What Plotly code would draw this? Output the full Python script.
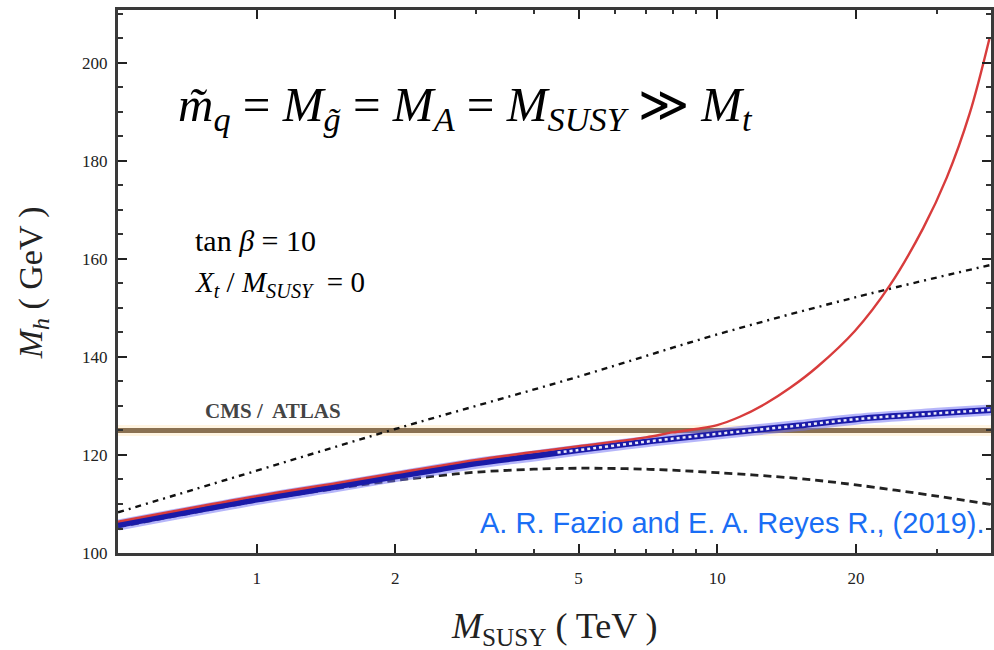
import plotly.graph_objects as go

# ---------------- data ----------------
# M_SUSY in TeV, M_h in GeV
band_x = [0.5, 1, 1.5, 2, 2.5, 3, 4, 5, 7, 10, 15, 20, 30, 39.3]
band_y = [105.7, 110.9, 113.6, 115.6, 117.1, 118.3, 119.8, 121.0, 122.7, 124.3, 126.0, 127.3, 128.5, 129.2]

dot_x = [4.5, 5, 7, 10, 15, 20, 30, 39.3]
dot_y = [120.5, 121.0, 122.7, 124.3, 126.0, 127.3, 128.5, 129.2]

red_x = [0.5, 1, 1.5, 2, 3, 4, 5, 7, 8, 9, 10, 11.2, 12.8, 14.4, 16.5, 19.9, 23.7, 28.0, 31.5, 35.3, 39.0]
red_y = [106.4, 111.6, 114.3, 116.3, 119.0, 120.6, 121.8, 123.6, 124.6, 125.3, 126.1, 127.8, 130.6, 133.7, 138.0, 145.3, 154.6, 166.3, 176.6, 189.6, 205.0]

dashdot_x = [0.5, 1, 2, 5, 10, 20, 39.3]
dashdot_y = [108.3, 116.8, 125.3, 136.0, 144.6, 152.2, 158.8]

dash_x = [0.5, 1, 1.5, 2, 2.5, 3, 4, 5, 7, 10, 15, 20, 30, 39.3]
dash_y = [105.3, 110.6, 113.2, 114.8, 115.8, 116.5, 117.1, 117.3, 117.1, 116.4, 115.2, 113.9, 111.6, 109.9]

lhc_x = [0.5, 39.3]
lhc_mh = [125, 125]

x_tickvals = [1, 2, 5, 10, 20]
x_ticktext = ["1", "2", "5", "10", "20"]
x_minor = [3, 4, 6, 7, 8, 9, 30]
y_tickvals = [100, 120, 140, 160, 180, 200]

# ---------------- figure ----------------
fig = go.Figure()

# LHC measurement band with soft halo
fig.add_trace(go.Scatter(x=lhc_x, y=lhc_mh, mode="lines",
                         line=dict(color="rgba(255,240,212,0.7)", width=11),
                         hoverinfo="skip", showlegend=False))
fig.add_trace(go.Scatter(x=lhc_x, y=lhc_mh, mode="lines",
                         line=dict(color="#8a7152", width=5),
                         showlegend=False))

# dash-dot curve
fig.add_trace(go.Scatter(x=dashdot_x, y=dashdot_y, mode="lines", line_shape="spline",
                         line=dict(color="#111111", width=2.4, dash="6px,5px,2px,5px"),
                         showlegend=False))
# dashed curve
fig.add_trace(go.Scatter(x=dash_x, y=dash_y, mode="lines", line_shape="spline",
                         line=dict(color="#222222", width=2.8, dash="8px,5px"),
                         showlegend=False))

# blue band
fig.add_trace(go.Scatter(x=band_x, y=band_y, mode="lines", line_shape="spline",
                         line=dict(color="rgba(110,110,245,0.5)", width=11),
                         showlegend=False))
fig.add_trace(go.Scatter(x=band_x, y=band_y, mode="lines", line_shape="spline",
                         line=dict(color="#1a1aa8", width=6),
                         showlegend=False))
fig.add_trace(go.Scatter(x=dot_x, y=dot_y, mode="lines", line_shape="spline",
                         line=dict(color="rgba(255,255,255,0.9)", width=2.5, dash="dot"),
                         showlegend=False))

# red curve
fig.add_trace(go.Scatter(x=red_x, y=red_y, mode="lines",
                         line=dict(color="#d83c3c", width=2.4, shape="spline", smoothing=1.0),
                         showlegend=False))

serif = "Liberation Serif"

fig.update_layout(
    width=994, height=650,
    margin=dict(l=118, r=0, t=10, b=97),
    paper_bgcolor="white", plot_bgcolor="white",
    showlegend=False,
    xaxis=dict(type="log", range=[-0.30103, 1.5944],
               tickvals=x_tickvals, ticktext=x_ticktext,
               ticks="inside", ticklen=9, tickwidth=2, tickcolor="#222",
               minor=dict(tickvals=x_minor, ticks="inside", ticklen=4, tickwidth=2, tickcolor="#333"),
               showline=True, linecolor="#3a3a3a", linewidth=3, mirror="ticks",
               showgrid=False, zeroline=False, ticklabelstandoff=8,
               tickfont=dict(family=serif, size=17, color="#222")),
    yaxis=dict(range=[100, 210.8],
               tickvals=y_tickvals,
               ticks="inside", ticklen=9, tickwidth=2, tickcolor="#222",
               minor=dict(dtick=5, ticks="inside", ticklen=5, tickwidth=2, tickcolor="#333"),
               showline=True, linecolor="#3a3a3a", linewidth=3, mirror="ticks",
               showgrid=False, zeroline=False, ticklabelstandoff=4,
               tickfont=dict(family=serif, size=17, color="#222")),
)

def px2paper(px, py):
    return (px - 118) / 876.0, (553 - py) / 543.0

anns = []
# main formula
fx, fy = px2paper(176, 108)
anns.append(dict(x=fx, y=fy, xref="paper", yref="paper", xanchor="left", yanchor="middle",
                 showarrow=False,
                 text="<i>m\u0303</i><sub><i>q</i></sub> = <i>M</i><sub><i>g\u0303</i></sub> = <i>M</i><sub><i>A</i></sub> = <i>M</i><sub><i>SUSY</i></sub> \u226B <i>M</i><sub><i>t</i></sub>",
                 font=dict(family=serif, size=49, color="#000")))
# parameters
fx, fy = px2paper(193, 240)
anns.append(dict(x=fx, y=fy, xref="paper", yref="paper", xanchor="left", yanchor="middle",
                 showarrow=False, text="tan <i>\u03B2</i> = 10",
                 font=dict(family=serif, size=30, color="#000")))
fx, fy = px2paper(193, 284)
anns.append(dict(x=fx, y=fy, xref="paper", yref="paper", xanchor="left", yanchor="middle",
                 showarrow=False, text="<i>X</i><sub><i>t</i></sub> / <i>M</i><sub><i>SUSY</i></sub>  = 0",
                 font=dict(family=serif, size=29, color="#000")))
# CMS / ATLAS
fx, fy = px2paper(203, 411)
anns.append(dict(x=fx, y=fy, xref="paper", yref="paper", xanchor="left", yanchor="middle",
                 showarrow=False, text="<b>CMS /  ATLAS</b>",
                 font=dict(family=serif, size=21, color="#444")))
# citation
fx, fy = px2paper(990, 523)
anns.append(dict(x=fx, y=fy, xref="paper", yref="paper", xanchor="right", yanchor="middle",
                 showarrow=False, text="A. R. Fazio and E. A. Reyes R., (2019).",
                 font=dict(family="Liberation Sans", size=29, color="#1a6ef5")))
# axis titles
fx, fy = px2paper(556, 628)
anns.append(dict(x=fx, y=fy, xref="paper", yref="paper", xanchor="center", yanchor="middle",
                 showarrow=False, text="<i>M</i><sub>SUSY</sub> ( TeV )",
                 font=dict(family=serif, size=36, color="#222")))
fx, fy = px2paper(33, 283)
anns.append(dict(x=fx, y=fy, xref="paper", yref="paper", xanchor="center", yanchor="middle",
                 showarrow=False, textangle=-90, text="<i>M</i><sub><i>h</i></sub> ( GeV )",
                 font=dict(family=serif, size=34, color="#222")))

fig.update_layout(annotations=anns)

fig.write_html("out.html")
